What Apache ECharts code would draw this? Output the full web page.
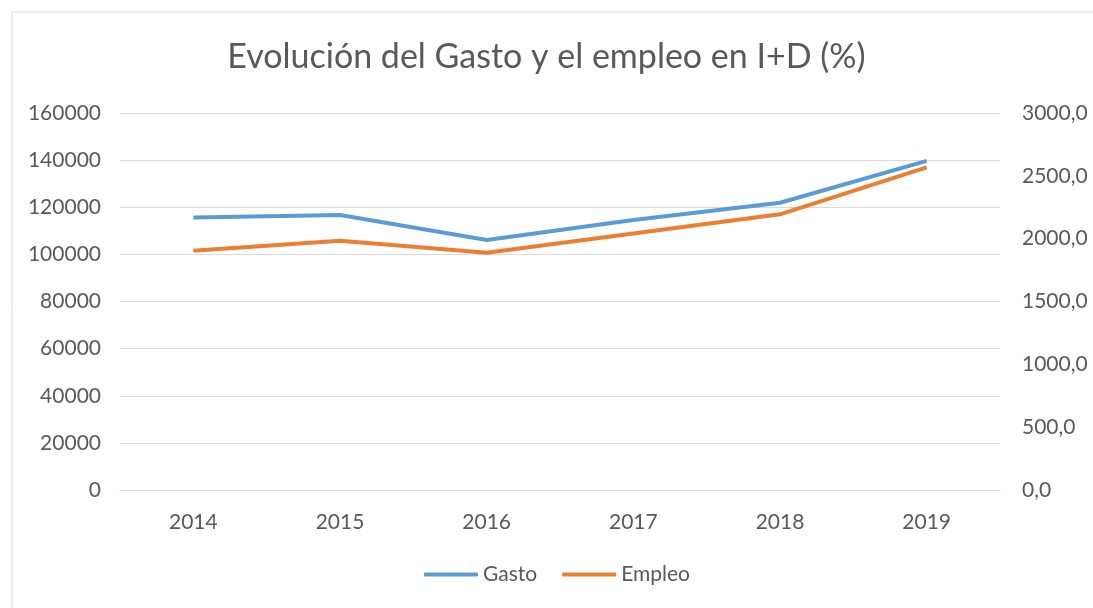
<!DOCTYPE html>
<html>
<head>
<meta charset="utf-8">
<script src="https://cdn.jsdelivr.net/npm/echarts@6/dist/echarts.min.js"></script>
<style>
html, body { margin: 0; padding: 0; background: #fff; }
#chart { width: 1093px; height: 608px; }
</style>
</head>
<body>
<div id="chart"></div>
<script>
//年份
var years = ['2014', '2015', '2016', '2017', '2018', '2019'];
//Gasto（左轴）
var gasto = [115700, 116700, 106100, 114600, 121900, 139700];
//Empleo（右轴）
var empleo = [1904, 1984, 1888, 2041, 2194, 2568];

var textColor = '#595959';
var chart = echarts.init(document.getElementById('chart'));
var option = {
	backgroundColor: '#fff',
	animation: false,
	textStyle: { fontFamily: 'Lato' },
	//外框
	graphic: [{
		type: 'rect',
		shape: { x: 12, y: 12, width: 1100, height: 620 },
		style: { fill: 'none', stroke: '#d9d9d9', lineWidth: 1 }
	}],
	title: {
		text: 'Evolución del Gasto y el empleo en I+D (%)',
		left: 'center',
		top: 35,
		textStyle: { fontFamily: 'Lato', fontSize: 34, fontWeight: 'normal', color: textColor }
	},
	legend: {
		bottom: 18,
		left: 419,
		icon: 'roundRect',
		itemWidth: 54,
		itemHeight: 4,
		itemGap: 25,
		textStyle: { fontFamily: 'Lato', fontSize: 21, color: textColor },
		data: ['Gasto', 'Empleo']
	},
	grid: { left: 120, right: 93, top: 113, bottom: 118 },
	xAxis: {
		type: 'category',
		data: years,
		boundaryGap: true,
		axisLine: { lineStyle: { color: '#d9d9d9' } },
		axisTick: { show: false },
		axisLabel: { color: textColor, fontSize: 21, fontFamily: 'Lato', margin: 22 }
	},
	yAxis: [{
		type: 'value',
		min: 0,
		max: 160000,
		interval: 20000,
		axisLine: { show: false },
		axisTick: { show: false },
		splitLine: { lineStyle: { color: '#d9d9d9' } },
		axisLabel: {
			color: textColor, fontSize: 21, fontFamily: 'Lato', margin: 19,
			formatter: function(v) { return String(v); }
		}
	}, {
		type: 'value',
		min: 0,
		max: 3000,
		interval: 500,
		axisLine: { show: false },
		axisTick: { show: false },
		splitLine: { show: false },
		axisLabel: {
			color: textColor, fontSize: 21, fontFamily: 'Lato', margin: 22,
			formatter: function(v) { return v.toFixed(1).replace('.', ','); }
		}
	}],
	series: [{
		name: 'Gasto',
		type: 'line',
		yAxisIndex: 0,
		data: gasto,
		symbol: 'none',
		color: '#5B9BD5',
		lineStyle: { width: 4, color: '#5B9BD5' }
	}, {
		name: 'Empleo',
		type: 'line',
		yAxisIndex: 1,
		data: empleo,
		symbol: 'none',
		color: '#ED7D31',
		lineStyle: { width: 4, color: '#ED7D31' }
	}]
};
chart.setOption(option);
</script>
</body>
</html>
